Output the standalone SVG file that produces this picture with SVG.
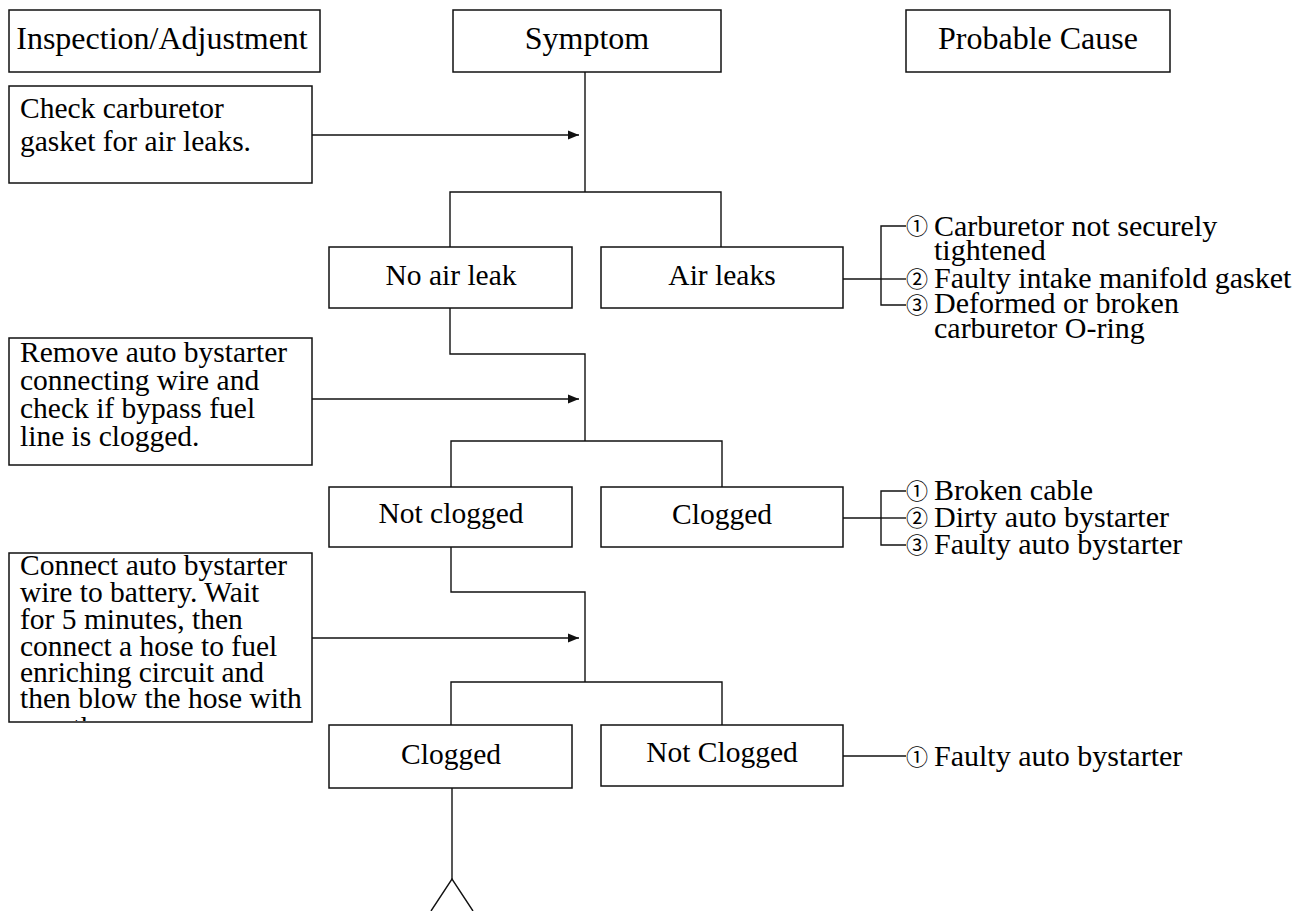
<svg xmlns="http://www.w3.org/2000/svg" width="1294" height="911" viewBox="0 0 1294 911">
<style>
.box{fill:#fff;stroke:#111;stroke-width:1.5}
.ln{fill:none;stroke:#111;stroke-width:1.4}
text{font-family:"Liberation Serif","Times New Roman","Noto Sans CJK JP",serif;fill:#000}
.h{font-size:32px;text-anchor:middle}
.n{font-size:29.5px;text-anchor:middle}
.t{font-size:29.5px}
.c{font-size:30px}
.d{font-family:"Noto Sans CJK JP","DejaVu Sans",sans-serif;font-size:22px}
</style>
<defs>
<marker id="ah" markerWidth="11" markerHeight="10" refX="11" refY="5" orient="auto" markerUnits="userSpaceOnUse">
<path d="M0,0.5 L11,5 L0,9.5 Z" fill="#111"/>
</marker>
<clipPath id="clip3"><rect x="10" y="554" width="301" height="167"/></clipPath>
</defs>
<rect width="1294" height="911" fill="#fff"/>

<g id="connectors">
<line class="ln" x1="585" y1="72" x2="585" y2="192"/>
<line class="ln" x1="312" y1="135" x2="579" y2="135" marker-end="url(#ah)"/>
<polyline class="ln" points="450,247 450,192 721,192 721,247"/>
<polyline class="ln" points="450,308 450,354 585,354 585,441"/>
<line class="ln" x1="312" y1="399" x2="579" y2="399" marker-end="url(#ah)"/>
<polyline class="ln" points="451,487 451,441 722,441 722,487"/>
<polyline class="ln" points="451,547 451,592 585,592 585,682"/>
<line class="ln" x1="312" y1="638" x2="579" y2="638" marker-end="url(#ah)"/>
<polyline class="ln" points="451,725 451,682 722,682 722,725"/>
<line class="ln" x1="843" y1="279" x2="881" y2="279"/>
<polyline class="ln" points="906,226 881,226 881,305 906,305"/>
<line class="ln" x1="881" y1="279" x2="906" y2="279"/>
<line class="ln" x1="843" y1="518" x2="881" y2="518"/>
<polyline class="ln" points="906,491 881,491 881,545 906,545"/>
<line class="ln" x1="881" y1="518" x2="906" y2="518"/>
<line class="ln" x1="843" y1="756" x2="906" y2="756"/>
<line class="ln" x1="452" y1="788" x2="452" y2="879"/>
<polyline class="ln" points="431,911 452,879 473,911"/>
</g>

<g id="hdr-inspection">
<rect class="box" x="9" y="10" width="311" height="62"/>
<text class="h" x="162" y="49">Inspection/Adjustment</text>
</g>
<g id="hdr-symptom">
<rect class="box" x="453" y="10" width="268" height="62"/>
<text class="h" x="587" y="49">Symptom</text>
</g>
<g id="hdr-cause">
<rect class="box" x="906" y="10" width="264" height="62"/>
<text class="h" x="1038" y="49">Probable Cause</text>
</g>

<g id="insp1">
<rect class="box" x="9" y="86" width="303" height="97"/>
<text class="t" x="20" y="118">Check carburetor</text>
<text class="t" x="20" y="151">gasket for air leaks.</text>
</g>
<g id="insp2">
<rect class="box" x="9" y="338" width="303" height="127"/>
<text class="t" x="20" y="362">Remove auto bystarter</text>
<text class="t" x="20" y="390">connecting wire and</text>
<text class="t" x="20" y="418">check if bypass fuel</text>
<text class="t" x="20" y="446">line is clogged.</text>
</g>
<g id="insp3">
<rect class="box" x="9" y="553" width="303" height="169"/>
<text class="t" x="20" y="575">Connect auto bystarter</text>
<text class="t" x="20" y="602">wire to battery. Wait</text>
<text class="t" x="20" y="629">for 5 minutes, then</text>
<text class="t" x="20" y="656">connect a hose to fuel</text>
<text class="t" x="20" y="682">enriching circuit and</text>
<text class="t" x="20" y="708">then blow the hose with</text>
<text class="t" x="20" y="737" clip-path="url(#clip3)">mouth.</text>
</g>

<g id="s-noairleak">
<rect class="box" x="329" y="247" width="243" height="61"/>
<text class="n" x="451" y="285">No air leak</text>
</g>
<g id="s-airleaks">
<rect class="box" x="601" y="247" width="242" height="61"/>
<text class="n" x="722" y="285">Air leaks</text>
</g>
<g id="s-notclogged1">
<rect class="box" x="329" y="487" width="243" height="60"/>
<text class="n" x="451" y="523">Not clogged</text>
</g>
<g id="s-clogged1">
<rect class="box" x="601" y="487" width="242" height="60"/>
<text class="n" x="722" y="524">Clogged</text>
</g>
<g id="s-clogged2">
<rect class="box" x="329" y="725" width="243" height="63"/>
<text class="n" x="451" y="764">Clogged</text>
</g>
<g id="s-notclogged2">
<rect class="box" x="601" y="725" width="242" height="61"/>
<text class="n" x="722" y="762">Not Clogged</text>
</g>

<g id="cause1">
<text class="d" x="906" y="234">①</text>
<text class="c" x="934" y="236">Carburetor not securely</text>
<text class="c" x="934" y="260">tightened</text>
<text class="d" x="906" y="287">②</text>
<text class="c" x="934" y="288">Faulty intake manifold gasket</text>
<text class="d" x="906" y="313">③</text>
<text class="c" x="934" y="313">Deformed or broken</text>
<text class="c" x="934" y="338">carburetor O-ring</text>
</g>
<g id="cause2">
<text class="d" x="906" y="499">①</text>
<text class="c" x="934" y="500">Broken cable</text>
<text class="d" x="906" y="526">②</text>
<text class="c" x="934" y="527">Dirty auto bystarter</text>
<text class="d" x="906" y="553">③</text>
<text class="c" x="934" y="554">Faulty auto bystarter</text>
</g>
<g id="cause3">
<text class="d" x="906" y="765">①</text>
<text class="c" x="934" y="766">Faulty auto bystarter</text>
</g>
</svg>
